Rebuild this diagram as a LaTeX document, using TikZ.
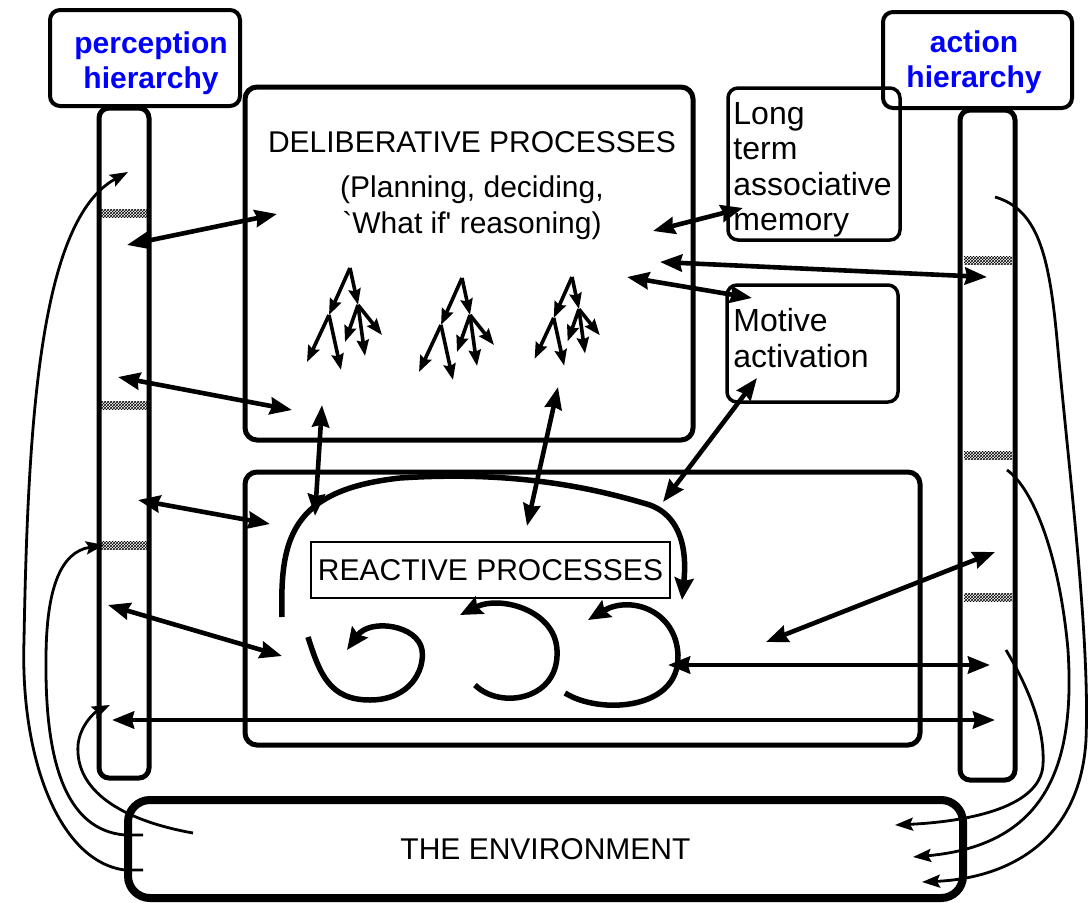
\documentclass[tikz,border=0pt]{standalone}
\usepackage{fontspec}
\setmainfont{Liberation Sans}
\usetikzlibrary{arrows.meta,positioning,patterns,calc}

\begin{document}
\begin{tikzpicture}[x=1pt,y=-1pt,
  labbox/.style={draw,line width=4pt,rounded corners=10pt,inner sep=0pt},
  labtxt/.style={text=blue,font=\bfseries\fontsize{30}{35}\selectfont,align=center,inner sep=0pt},
  colbox/.style={draw,line width=5pt,rounded corners=10pt,inner sep=0pt},
  procbox/.style={draw,line width=5pt,rounded corners=12pt,inner sep=0pt},
  sidebox/.style={draw,line width=3.5pt,rounded corners=10pt,inner sep=0pt},
  txt/.style={font=\fontsize{30}{35.5}\selectfont,inner sep=0pt},
  sidetxt/.style={font=\fontsize{32}{35.5}\selectfont,inner sep=0pt,align=left},
  dblarr/.style={line width=4.6pt,{Stealth[length=22pt,width=17pt,inset=2pt]}-{Stealth[length=22pt,width=17pt,inset=2pt]}},
  ring/.style={line width=5.5pt,-{Stealth[length=22pt,width=19pt,inset=3pt]}},
  feed/.style={line width=2.8pt,-{Stealth[length=18pt,width=13pt,inset=3pt]}},
  twig/.style={line width=3.6pt,-{Stealth[length=16pt,width=12pt,inset=2pt]}},
  hatch/.style={pattern=crosshatch}]
 \useasboundingbox (0,0) rectangle (1088,903);

 \node[labbox,minimum width=190pt,minimum height=96pt] (plab) at (145,58) {};
 \node[labtxt,below=24pt of plab.north,xshift=6pt] (ptxt) {perception\\hierarchy};
 \node[colbox,minimum width=50pt,minimum height=670pt] (pcol) at (124,443) {};
 \node[labbox,minimum width=189pt,minimum height=96pt] (alab) at (977.5,60) {};
 \node[labtxt,below=21pt of alab.north,xshift=-3.5pt] (atxt) {action\\hierarchy};
 \node[colbox,minimum width=55pt,minimum height=670pt] (acol) at (987.5,445) {};

 \node[procbox,minimum width=448pt,minimum height=353pt] (delib) at (469,263.5) {};
 \node[txt] (dtitle) at (472,142) {DELIBERATIVE PROCESSES};
 \node[txt,align=center,below=23pt of dtitle] (dsub)
  {(Planning, deciding,\\\textasciigrave What if\textquotesingle{} reasoning)};
 \node[sidebox,minimum width=172pt,minimum height=152pt] (mem) at (814,164) {};
 \node[sidetxt,below right=16pt and 7pt of mem.north west] (memtxt)
  {Long\\term\\associative\\memory};
 \node[sidebox,minimum width=171pt,minimum height=117pt] (mot) at (812.5,343.5) {};
 \node[sidetxt,below right=25pt and 8pt of mot.north west] (mottxt)
  {Motive\\activation};

 \node[procbox,minimum width=675pt,minimum height=273pt] (react) at (582.5,608.5) {};
 \node[txt,draw,line width=2.5pt,minimum width=359pt,minimum height=56pt] (rlab)
  at (490.5,570) {REACTIVE PROCESSES};
 \node[txt,draw,line width=8pt,rounded corners=22pt,minimum width=835pt,minimum height=98pt] (env)
  at (545.5,849) {THE ENVIRONMENT};

 \foreach \y in {213,405,545} \fill[hatch] (101,\y-4) rectangle (147,\y+4);
 \foreach \y in {260,455,597} \fill[hatch] (964,\y-4) rectangle (1012,\y+4);

 \foreach \rx/\ry/\s [count=\k] in {350/268/1,462/278/1,572/277/0.87} {
  \coordinate (tr\k) at (\rx,\ry);
  \coordinate (ta\k) at ($(tr\k)+(-21*\s,47*\s)$);
  \coordinate (tb\k) at ($(tr\k)+(8*\s,37*\s)$);
  \draw[twig] (tr\k) -- (ta\k);
  \draw[twig] (tr\k) -- (tb\k);
  \foreach \dx/\dy in {-22/47,12/55} \draw[twig] (ta\k) -- ++(\dx*\s,\dy*\s);
  \foreach \dx/\dy in {-13/37,7/51,24/30} \draw[twig] (tb\k) -- ++(\dx*\s,\dy*\s);
 }

 \coordinate (p1) at (127,245);  \coordinate (d1) at (277,214);
 \coordinate (p2) at (118,377);  \coordinate (d2) at (292,410);
 \coordinate (p3) at (138,500);  \coordinate (r3) at (270,524);
 \coordinate (p4) at (108,605);  \coordinate (r4) at (282,656);
 \coordinate (p5) at (112,720);  \coordinate (a5) at (995,720);
 \coordinate (r6) at (668,665);  \coordinate (a6) at (990,665);
 \coordinate (r7) at (766,642);  \coordinate (a7) at (995,552);
 \coordinate (d8) at (660,262);  \coordinate (a8) at (987,277);
 \coordinate (d9) at (627,277);  \coordinate (m9) at (752,298);
 \coordinate (d10) at (653,231); \coordinate (m10) at (743,208);
 \coordinate (r11) at (663,502); \coordinate (m11) at (757,378);
 \coordinate (d12) at (558,387); \coordinate (r12) at (527,526);
 \coordinate (d13) at (322,405); \coordinate (r13) at (315,516);
 \foreach \u/\v in {p1/d1,p2/d2,p3/r3,p4/r4,p5/a5,r6/a6,r7/a7,d8/a8,d9/m9,d10/m10,r11/m11,d12/r12,d13/r13}
  \draw[dblarr] (\u) -- (\v);

 \coordinate (l0s) at (282,617); \coordinate (l0e) at (682,600);
 \coordinate (l1s) at (308,637); \coordinate (l1e) at (347,650);
 \coordinate (l2s) at (475,685); \coordinate (l2e) at (460,615);
 \coordinate (l3s) at (565,693); \coordinate (l3e) at (588,620);
 \draw[ring] (l0s) .. controls (280,540) and (290,490) .. (400,478)
  .. controls (520,470) and (600,490) .. (650,505) .. controls (690,520) and (685,570) .. (l0e);
 \draw[ring] (l1s) .. controls (320,675) and (330,700) .. (370,700)
  .. controls (410,700) and (425,670) .. (422,650) .. controls (418,625) and (370,618) .. (l1e);
 \draw[ring] (l2s) .. controls (500,710) and (560,700) .. (557,650)
  .. controls (555,610) and (500,595) .. (l2e);
 \draw[ring] (l3s) .. controls (600,715) and (680,710) .. (678,655)
  .. controls (676,610) and (630,595) .. (l3e);

 \coordinate (eA) at (143,870);  \coordinate (pA) at (128,172);
 \coordinate (eB) at (143,835);  \coordinate (pB) at (104,545);
 \coordinate (eC) at (193,833);  \coordinate (pC) at (110,705);
 \draw[feed] (eA) -- (125,870) .. controls (60,862) and (20,760) .. (24,640)
  .. controls (28,420) and (40,220) .. (pA);
 \draw[feed] (eB) -- (125,835) .. controls (65,830) and (45,760) .. (46,660)
  .. controls (46,590) and (60,552) .. (pB);
 \draw[feed] (eC) .. controls (120,820) and (75,790) .. (78,745)
  .. controls (80,725) and (95,712) .. (pC);

 \coordinate (aD) at (995,197);  \coordinate (eD) at (922,882);
 \coordinate (aE) at (1007,470); \coordinate (eE) at (913,857);
 \coordinate (aF) at (1006,650); \coordinate (eF) at (895,825);
 \draw[feed] (aD) .. controls (1040,210) and (1050,260) .. (1058,350)
  .. controls (1070,480) and (1090,640) .. (1086,740) .. controls (1080,840) and (1010,878) .. (eD);
 \draw[feed] (aE) .. controls (1035,490) and (1060,560) .. (1068,650)
  .. controls (1075,760) and (1050,845) .. (eE);
 \draw[feed] (aF) .. controls (1030,690) and (1045,730) .. (1043,765)
  .. controls (1040,810) and (960,822) .. (eF);
\end{tikzpicture}
\end{document}
